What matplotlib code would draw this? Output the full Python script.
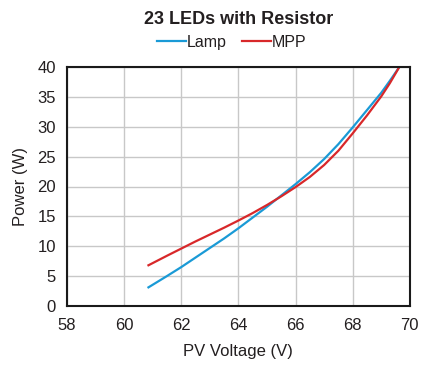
import numpy as np
import matplotlib.pyplot as plt

plt.rcParams['font.family'] = ['Liberation Sans', 'DejaVu Sans']

# Lamp curve (PV voltage V, power W)
lamp_v = [60.85, 61.5, 62.0, 62.5, 63.0, 63.5, 64.0, 64.5, 65.0, 65.5, 66.0, 66.5,
          67.0, 67.5, 68.0, 68.5, 69.0, 69.3, 69.63]
lamp_p = [3.1, 5.0, 6.5, 8.1, 9.7, 11.3, 13.0, 14.8, 16.6, 18.5, 20.4, 22.4,
          24.6, 27.1, 29.9, 32.8, 35.7, 37.7, 40.0]

# MPP curve
mpp_v = [60.85, 61.5, 62.0, 62.5, 63.0, 63.5, 64.0, 64.5, 65.0, 65.5, 66.0, 66.5,
         67.0, 67.5, 68.0, 68.5, 69.0, 69.3, 69.63]
mpp_p = [6.8, 8.4, 9.6, 10.8, 11.95, 13.1, 14.3, 15.55, 16.9, 18.35, 19.9, 21.6,
         23.6, 26.0, 28.9, 31.9, 35.1, 37.3, 40.0]

fig = plt.figure(figsize=(4.44, 3.73), dpi=100)
ax = fig.add_axes([0.151, 0.18, 0.772, 0.64])

ax.plot(lamp_v, lamp_p, color='#1a9ad6', lw=1.6, label='Lamp')
ax.plot(mpp_v, mpp_p, color='#d8282a', lw=1.6, label='MPP')

ax.set_xlim(58, 70)
ax.set_ylim(0, 40)
ax.set_xticks(np.arange(58, 71, 2))
ax.set_yticks(np.arange(0, 41, 5))
ax.grid(True, color='#c8c8c8', lw=1.0)
ax.set_axisbelow(True)
for s in ax.spines.values():
    s.set_linewidth(1.5)
    s.set_color('#1a1a1a')
ax.tick_params(labelsize=12, length=0, labelcolor='#231f20')
ax.tick_params(axis='x', pad=9)
ax.tick_params(axis='y', pad=8)

ax.set_xlabel('PV Voltage (V)', fontsize=12, color='#231f20', labelpad=8)
ax.set_ylabel('Power (W)', fontsize=12, color='#231f20', labelpad=7)

fig.text(0.537, 0.947, '23 LEDs with Resistor', fontsize=13, fontweight='bold',
         ha='center', va='center', color='#231f20')
fig.legend(loc='center', bbox_to_anchor=(0.522, 0.886), ncol=2, frameon=False,
           fontsize=11.5, handlelength=1.8, handletextpad=0.05, columnspacing=1.0,
           borderaxespad=0.0, borderpad=0.0, labelcolor='#231f20')

fig.savefig('out.png', dpi=100)
